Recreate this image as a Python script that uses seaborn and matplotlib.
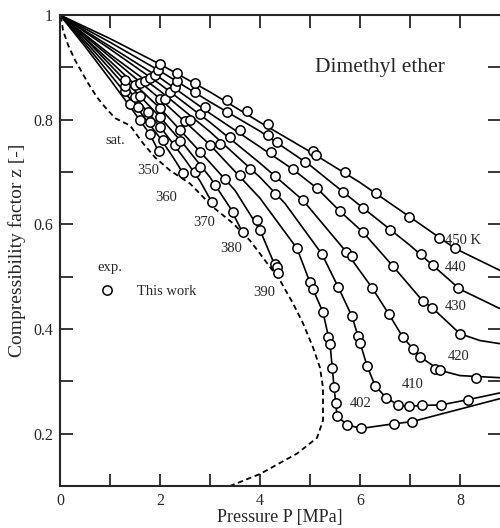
import numpy as np
import pandas as pd
import matplotlib
matplotlib.use("Agg")
import matplotlib.pyplot as plt
import seaborn as sns

# isotherm labels (K)
temps = [350, 360, 370, 380, 390, 402, 410, 420, 430, 440, 450]

# calculated isotherms (P [MPa], z)
line_p = {
    350: [0, 0.5, 1.0, 1.5, 1.8, 1.98],
    360: [0, 0.5, 1.0, 1.5, 2.0, 2.25, 2.46],
    370: [0, 0.5, 1.0, 1.5, 2.0, 2.5, 2.8, 3.04],
    380: [0, 0.5, 1.0, 1.5, 2.0, 2.5, 3.0, 3.4, 3.66],
    390: [0, 1.0, 2.0, 3.0, 3.5, 4.0, 4.36],
    402: [0, 1.0, 2.0, 3.0, 4.0, 4.74, 5.0, 5.26, 5.4, 5.48, 5.54, 5.74, 6.02, 6.68, 7.04, 8.8],
    410: [0, 1.0, 2.0, 3.0, 4.0, 4.5, 5.24, 5.56, 5.84, 6.0, 6.14, 6.3, 6.52, 6.76, 6.98, 7.24, 7.62, 8.16, 8.8],
    420: [0, 1.0, 2.0, 3.0, 4.0, 4.86, 5.72, 6.24, 6.58, 6.86, 7.2, 7.6, 8.0, 8.8],
    430: [0, 1.0, 2.0, 3.0, 4.0, 4.66, 5.14, 5.6, 6.06, 6.66, 7.26, 7.44, 8.0, 8.4, 8.8],
    440: [0, 1.0, 2.0, 3.0, 4.0, 5.0, 6.0, 7.0, 8.0, 8.8],
    450: [0, 1.0, 2.0, 3.0, 4.0, 5.0, 6.0, 7.0, 7.9, 8.8],
}
line_z = {
    350: [1, 0.94, 0.877, 0.812, 0.772, 0.738],
    360: [1, 0.945, 0.887, 0.828, 0.765, 0.73, 0.698],
    370: [1, 0.95, 0.897, 0.843, 0.787, 0.724, 0.683, 0.642],
    380: [1, 0.955, 0.905, 0.855, 0.805, 0.75, 0.69, 0.632, 0.583],
    390: [1, 0.912, 0.822, 0.718, 0.665, 0.589, 0.508],
    402: [1, 0.92, 0.84, 0.752, 0.65, 0.554, 0.489, 0.432, 0.372, 0.29, 0.234, 0.217, 0.21, 0.219, 0.223, 0.267],
    410: [1, 0.925, 0.855, 0.777, 0.69, 0.64, 0.543, 0.481, 0.424, 0.374, 0.33, 0.292, 0.269, 0.255, 0.252, 0.254, 0.255, 0.265, 0.278],
    420: [1, 0.935, 0.868, 0.795, 0.717, 0.646, 0.548, 0.479, 0.428, 0.384, 0.347, 0.321, 0.311, 0.307],
    430: [1, 0.94, 0.88, 0.812, 0.748, 0.705, 0.669, 0.625, 0.585, 0.52, 0.453, 0.441, 0.391, 0.378, 0.372],
    440: [1, 0.948, 0.893, 0.834, 0.778, 0.713, 0.636, 0.56, 0.476, 0.439],
    450: [1, 0.955, 0.906, 0.853, 0.795, 0.739, 0.68, 0.614, 0.554, 0.512],
}

# experimental points, this work
exp_p = {
    350: [1.4, 1.6, 1.8, 1.97],
    360: [1.3, 1.55, 1.8, 2.05, 2.46],
    370: [1.3, 1.5, 1.75, 2.0, 2.3, 2.7, 3.04],
    380: [1.3, 1.6, 2.0, 2.4, 2.8, 3.1, 3.46, 3.66],
    390: [1.5, 2.0, 2.4, 2.8, 3.3, 3.94, 4.0, 4.3, 4.34, 4.36],
    402: [1.6, 2.0, 2.5, 3.0, 3.6, 4.74, 5.0, 5.06, 5.26, 5.36, 5.4, 5.44, 5.48, 5.52, 5.54, 5.74, 6.02, 6.68, 7.04],
    410: [1.7, 2.1, 2.6, 3.2, 3.8, 4.3, 5.24, 5.56, 5.84, 5.96, 6.0, 6.14, 6.3, 6.52, 6.76, 6.98, 7.24, 7.62, 8.16],
    420: [1.8, 2.2, 2.8, 3.4, 4.3, 4.86, 5.72, 5.84, 6.24, 6.58, 6.86, 7.06, 7.2, 7.5, 7.6, 8.32],
    430: [1.9, 2.3, 2.9, 3.6, 4.22, 4.66, 5.14, 5.6, 6.06, 6.66, 7.26, 7.44, 8.0],
    440: [1.95, 2.34, 2.7, 3.34, 4.16, 4.34, 4.9, 5.66, 6.06, 6.6, 7.22, 7.46, 7.96],
    450: [2.0, 2.34, 2.7, 3.34, 3.74, 4.16, 5.06, 5.12, 5.7, 6.32, 6.98, 7.58, 7.9],
}
exp_z = {
    350: [0.83, 0.8, 0.772, 0.74],
    360: [0.855, 0.825, 0.795, 0.762, 0.698],
    370: [0.865, 0.843, 0.815, 0.787, 0.752, 0.7, 0.642],
    380: [0.875, 0.845, 0.805, 0.76, 0.71, 0.675, 0.623, 0.585],
    390: [0.867, 0.822, 0.78, 0.738, 0.686, 0.608, 0.589, 0.525, 0.518, 0.508],
    402: [0.871, 0.84, 0.797, 0.752, 0.695, 0.554, 0.489, 0.477, 0.432, 0.384, 0.372, 0.326, 0.29, 0.259, 0.234, 0.217, 0.21, 0.219, 0.223],
    410: [0.874, 0.84, 0.8, 0.754, 0.705, 0.658, 0.543, 0.481, 0.424, 0.386, 0.374, 0.33, 0.292, 0.269, 0.255, 0.252, 0.254, 0.255, 0.265],
    420: [0.88, 0.852, 0.81, 0.767, 0.692, 0.646, 0.548, 0.539, 0.479, 0.428, 0.384, 0.361, 0.347, 0.324, 0.321, 0.307],
    430: [0.886, 0.862, 0.825, 0.78, 0.738, 0.705, 0.669, 0.625, 0.585, 0.52, 0.453, 0.441, 0.391],
    440: [0.895, 0.874, 0.853, 0.815, 0.77, 0.757, 0.719, 0.661, 0.631, 0.59, 0.543, 0.522, 0.479],
    450: [0.906, 0.889, 0.87, 0.837, 0.816, 0.791, 0.74, 0.733, 0.7, 0.659, 0.615, 0.573, 0.554],
}

# saturation curve
sat_p = [0.02, 0.06, 0.16, 0.3, 0.56, 0.74, 0.9, 1.1, 1.4, 1.66, 1.9, 2.2, 2.6, 3.06, 3.46, 3.8,
         4.0, 4.4, 4.66, 4.86, 5.06, 5.2, 5.26, 5.26, 5.14, 4.74, 4.0, 3.4]
sat_z = [0.998, 0.971, 0.943, 0.914, 0.87, 0.843, 0.824, 0.803, 0.789, 0.755, 0.728, 0.703, 0.678,
         0.633, 0.602, 0.569, 0.544, 0.493, 0.449, 0.411, 0.365, 0.326, 0.288, 0.225, 0.192, 0.162,
         0.123, 0.1]

# curve labels
label_text = ["sat.", "350", "360", "370", "380", "390", "402", "410", "420", "430", "440", "450 K"]
label_p = [0.9, 1.54, 1.9, 2.66, 3.2, 3.86, 5.8, 6.84, 7.76, 7.7, 7.7, 7.7]
label_z = [0.761, 0.703, 0.652, 0.604, 0.554, 0.47, 0.257, 0.294, 0.347, 0.443, 0.517, 0.569]

lines = pd.DataFrame([(t, p, z) for t in temps for p, z in zip(line_p[t], line_z[t])],
                     columns=["T", "P", "z"])
points = pd.DataFrame([(t, p, z) for t in temps for p, z in zip(exp_p[t], exp_z[t])],
                      columns=["T", "P", "z"])
sat = pd.DataFrame({"P": sat_p, "z": sat_z})

sns.set_style("ticks")
plt.rcParams["font.family"] = ["Liberation Serif", "DejaVu Serif"]

fig = plt.figure(figsize=(5.0, 5.28), dpi=100)
ax = fig.add_axes([0.12, 0.0795, 0.88, 0.892])

sns.lineplot(data=lines, x="P", y="z", units="T", estimator=None, sort=False,
             color="black", lw=1.2, ax=ax, legend=False)
sns.lineplot(data=sat, x="P", y="z", sort=False, estimator=None, color="black",
             lw=1.3, ax=ax, legend=False, linestyle=(0, (3, 2)))
sns.scatterplot(data=points, x="P", y="z", marker="o", s=45, facecolor="white",
                edgecolor="black", linewidth=1.1, ax=ax, legend=False, zorder=3)

for txt, p, z in zip(label_text, label_p, label_z):
    ax.text(p, z, txt, fontsize=10.5, ha="left", va="center")

ax.text(6.4, 0.9, "Dimethyl ether", fontsize=15.5, ha="center", va="center")
ax.text(0.74, 0.518, "exp.", fontsize=10.5, ha="left", va="center")
ax.scatter([0.94], [0.475], s=45, facecolor="white", edgecolor="black", linewidth=1.1)
ax.text(1.54, 0.472, "This work", fontsize=10.5, ha="left", va="center")

ax.set_xlim(0, 8.8)
ax.set_ylim(0.1, 1.0)
ax.set_xticks([0, 2, 4, 6, 8])
ax.set_xticks([1, 3, 5, 7], minor=True)
ax.set_yticks([0.2, 0.4, 0.6, 0.8, 1.0])
ax.set_yticklabels(["0.2", "0.4", "0.6", "0.8", "1"])
ax.set_yticks([0.1, 0.3, 0.5, 0.7, 0.9], minor=True)
ax.tick_params(which="both", direction="in", top=True, right=True, width=1.3,
               length=9, labelsize=11.5, pad=5)
ax.spines["right"].set_visible(False)
for s in ["left", "bottom", "top"]:
    ax.spines[s].set_linewidth(1.5)

ax.set_xlabel("Pressure P [MPa]", fontsize=13, labelpad=0)
ax.set_ylabel("Compressibility factor z [-]", fontsize=14, labelpad=5)

fig.savefig("out.png", dpi=100)
